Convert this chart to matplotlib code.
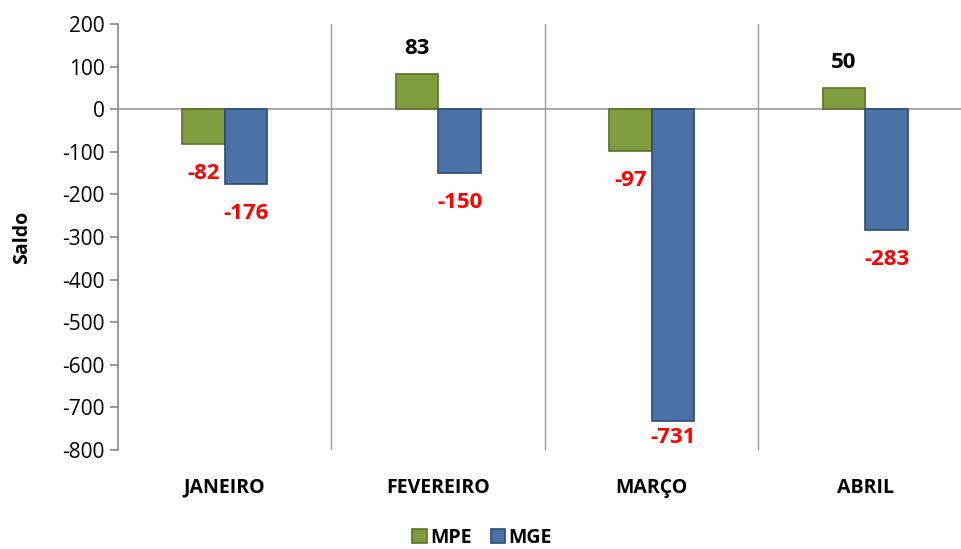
import matplotlib.pyplot as plt
import numpy as np

months = ["JANEIRO", "FEVEREIRO", "MARÇO", "ABRIL"]
mpe = [-82, 83, -97, 50]
mge = [-176, -150, -731, -283]
yticks = [200, 100, 0, -100, -200, -300, -400, -500, -600, -700, -800]

plt.rcParams['font.family'] = ['Open Sans', 'DejaVu Sans']
plt.rcParams['axes.unicode_minus'] = False

fig = plt.figure(figsize=(9.62, 5.49), dpi=100)
ax = fig.add_axes([118/962, 1-450/549, 854/962, 426/549])

x = np.arange(len(months))
w = 0.2
ax.bar(x - w/2, mpe, w, color="#7f9c3e", edgecolor="#5a7128", linewidth=1.2, label="MPE", zorder=3)
ax.bar(x + w/2, mge, w, color="#4a72a6", edgecolor="#2c4a72", linewidth=1.2, label="MGE", zorder=3)


def label(xs, vals):
    for xi, v in zip(xs, vals):
        if v > 0:
            y, c = v + 60, "black"
        else:
            y, c = max(v - 70, -770), "red"
        ax.text(xi, y, str(v), ha="center", va="center", fontsize=16,
                fontweight="bold", color=c)


label(x - w/2, mpe)
label(x + w/2, mge)

ax.set_xlim(-0.5, 3.5)
ax.set_ylim(-800, 200)
ax.set_yticks(yticks)
ax.set_xticks(x)
ax.set_xticklabels(months, fontsize=14, fontweight="bold")
ax.tick_params(axis="x", length=0, pad=20)
ax.tick_params(axis="y", labelsize=15, color="#888888", length=6, width=1.2)
for b in [0.5, 1.5, 2.5]:
    ax.axvline(b, color="#999999", linewidth=1, zorder=1)
ax.axhline(0, color="#999999", linewidth=1.2, zorder=2)
for s in ["top", "right", "bottom"]:
    ax.spines[s].set_visible(False)
ax.spines["left"].set_color("#888888")
ax.spines["left"].set_linewidth(1.2)

fig.text(22/962, 1-237/549, "Saldo", rotation=90, ha="center", va="center",
         fontsize=14, fontweight="bold")

fig.legend(loc="center", bbox_to_anchor=(482/962, 1-538/549), ncol=2, frameon=False,
           prop={"size": 14, "weight": "bold"}, handlelength=0.75, handleheight=0.75,
           handletextpad=0.15, columnspacing=1.0)

fig.savefig("out.png", dpi=100)
